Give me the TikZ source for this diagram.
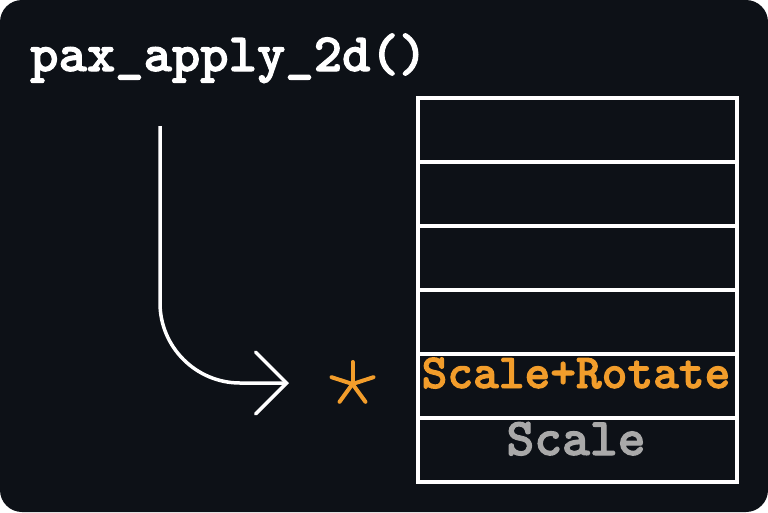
\documentclass[tikz,border=0pt]{standalone}
\usepackage{fontspec}
\newfontfamily\codefont{lmmonolt10-bold.otf}[RawFeature={embolden=2}]
\usetikzlibrary{arrows.meta}
\definecolor{bgdark}{HTML}{0D1117}
\definecolor{accent}{HTML}{F29D2B}
\definecolor{dimgrey}{HTML}{A9A9A9}
\tikzset{
  rowbox/.style={draw=white, line width=4pt, minimum width=319pt, minimum height=64pt, inner sep=0pt, anchor=north west},
  label/.style={font=\codefont\fontsize{49}{49}\selectfont, inner sep=0pt, anchor=base},
  flow/.style={draw=white, line width=3.5pt, -{Straight Barb[length=31pt,width=62pt,line cap=round]}},
  star/.style={draw=accent, line width=4pt, line cap=round}
}
\begin{document}
\begin{tikzpicture}[x=1pt,y=-1pt]
\fill[white] (0,0) rectangle (768,512);
\useasboundingbox (0,0) rectangle (768,512);
\fill[bgdark, rounded corners=22pt] (0,0) rectangle (768,512);
\node[font=\codefont\fontsize{54}{54}\selectfont, text=white, inner sep=0pt, anchor=base west] (title) at (30,71) {pax\_apply\_2d()};
\foreach \i/\yy in {1/96,2/160,3/224,4/288,5/352,6/416}{
  \node[rowbox] (r\i) at (416,\yy) {};
}
\node[label, text=accent] (t5) at (576,388) {Scale+Rotate};
\node[label, text=dimgrey, font=\codefont\fontsize{53}{53}\selectfont] (t6) at (576,455) {Scale};
\coordinate (start) at (160,126);
\coordinate (bend) at (160,303);
\coordinate (tip) at (289,383);
\coordinate (sc) at (352.5,384);
\draw[flow] (start) -- (bend) .. controls (160,347) and (196,383) .. (240,383) -- (tip);
\foreach \a in {90,162,234,306,18}{
  \draw[star] (sc) -- ++({22*cos(\a)},{-22*sin(\a)});
}
\end{tikzpicture}
\end{document}
